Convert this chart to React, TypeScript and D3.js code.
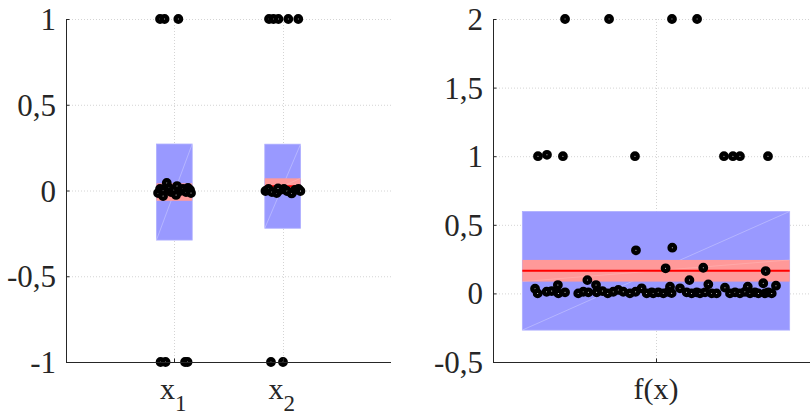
import React from "react";
import * as d3 from "d3";

// ---- data ----
const leftCategories = ["1", "2"]; // subscripts of x
const leftMeans = [-0.009, 0.025];
const leftCI = [0.051, 0.046];
const leftSD = [0.28, 0.245];

const x1Values = [1, 1, 1, -1, -1, -1, -1, -0.015, 0.009, -0.003, 0.044, 0.015, -0.009, 0.003, 0.026, -0.003, 0.009, -0.009, 0.015, 0.003, -0.015, -0.032, -0.026];
const x1Jitter = [-0.132, -0.09, 0.037, -0.127, -0.081, 0.099, 0.122, -0.15, -0.132, -0.104, -0.07, -0.049, -0.03, -0.003, 0.025, 0.053, 0.08, 0.108, 0.126, 0.145, 0.154, -0.104, 0.016];

const x2Values = [1, 1, 1, 1, 1, -1, -1, -0.003, 0.009, -0.009, -0.015, 0.003, 0.009, -0.003, -0.017, 0.003, 0.009, -0.003, 0.012];
const x2Jitter = [-0.126, -0.085, -0.039, 0.052, 0.144, -0.108, 0.003, -0.159, -0.131, -0.099, -0.055, -0.025, 0.012, 0.04, 0.083, 0.114, 0.146, 0.164, -0.043];

const leftTicks = [1, 0.5, 0, -0.5, -1];
const leftTickLabels = ["1", "0,5", "0", "-0,5", "-1"];

const rightCategory = "f(x)";
const rightMean = 0.165;
const rightCI = 0.079;
const rightSD = 0.4325;

const fValues = [
  2, 2, 2, 2,
  1, 1.01, 1, 1, 1, 1, 1, 1,
  0.314, 0.333, 0.183, 0.187, 0.163, 0.097, 0.061, 0.061, 0.097, 0.066, 0.049, 0.074, 0.056, 0.037, 0.042, 0.049,
  0.034, 0, 0.012, 0.017, 0, 0.008, 0, 0.012, 0.008, 0.008, 0.017, 0, 0.012, 0.025, 0.012, 0, 0.012, 0.037, 0, 0.008,
  0, 0.008, 0, 0.012, 0.002, 0.008, 0, 0.008, 0, 0.008, 0, 0, 0, 0.008, 0, 0.012, 0, 0.008, 0, 0, 0.008, 0,
];
const fJitter = [
  -0.558, -0.288, 0.098, 0.252,
  -0.724, -0.669, -0.571, -0.129, 0.417, 0.472, 0.515, 0.687,
  -0.123, 0.1, 0.059, 0.29, 0.673, -0.421, -0.368, -0.602, 0.205, 0.321, 0.086, 0.658, 0.736, 0.147, 0.423, 0.563,
  -0.742, -0.726, -0.671, -0.64, -0.599, -0.558, -0.477, -0.446, -0.415, -0.364, -0.329, -0.296, -0.262, -0.231, -0.201, -0.16, -0.125, -0.088, -0.057, -0.026,
  -0.017, 0.014, 0.045, 0.075, 0.096, 0.188, 0.219, 0.25, 0.27, 0.301, 0.342, 0.372, 0.454, 0.485, 0.515, 0.546, 0.577, 0.607, 0.628, 0.669, 0.689, 0.71,
];

const rightTicks = [2, 1.5, 1, 0.5, 0, -0.5];
const rightTickLabels = ["2", "1,5", "1", "0,5", "0", "-0,5"];

// ---- style ----
const W = 810;
const H = 417;
const TOP = 19;
const BOTTOM = 362;
const FONT = "'Liberation Serif', 'Times New Roman', serif";
const TEXT = "#262626";
const SD_FILL = "#9999ff";
const CI_FILL = "#ff9999";
const GRID = "#d4d4d4";

type Group = { pos: number; mean: number; ci: number; sd: number; values: number[]; jitter: number[] };

function Panel({
  x0, x1, xDomain, yDomain, ticks, tickLabels, halfWidth, groups, xLabels,
}: {
  x0: number; x1: number; xDomain: [number, number]; yDomain: [number, number];
  ticks: number[]; tickLabels: string[]; halfWidth: number; groups: Group[];
  xLabels: React.ReactNode[];
}) {
  const x = d3.scaleLinear().domain(xDomain).range([x0, x1]);
  const y = d3.scaleLinear().domain(yDomain).range([BOTTOM, TOP]);
  return (
    <g>
      {/* grid */}
      {ticks.map((t, i) => (
        <line key={"gy" + i} x1={x0} x2={x1} y1={y(t) + 0.5} y2={y(t) + 0.5} stroke={GRID} strokeDasharray="1 2" />
      ))}
      {groups.map((g, i) => (
        <line key={"gx" + i} x1={Math.round(x(g.pos)) + 0.5} x2={Math.round(x(g.pos)) + 0.5} y1={TOP} y2={BOTTOM} stroke={GRID} strokeDasharray="1 2" />
      ))}
      {/* boxes: SD band, confidence band, mean line */}
      {groups.map((g, i) => {
        const bx0 = x(g.pos - halfWidth);
        const bx1 = x(g.pos + halfWidth);
        const sTop = y(g.mean + g.sd);
        const sBot = y(g.mean - g.sd);
        const cTop = y(g.mean + g.ci);
        const cBot = y(g.mean - g.ci);
        return (
          <g key={"b" + i}>
            <rect x={bx0} y={sTop} width={bx1 - bx0} height={sBot - sTop} fill={SD_FILL} stroke="#aeaeff" strokeWidth={0.8} />
            <line x1={bx0} y1={sBot} x2={bx1} y2={sTop} stroke="#ffffff" strokeOpacity={0.35} strokeWidth={0.8} />
            <rect x={bx0} y={cTop} width={bx1 - bx0} height={cBot - cTop} fill={CI_FILL} />
            <line x1={bx0} y1={cBot} x2={bx1} y2={cTop} stroke="#ffffff" strokeOpacity={0.2} strokeWidth={0.8} />
            <line x1={bx0} x2={bx1} y1={y(g.mean)} y2={y(g.mean)} stroke="#ff0000" strokeWidth={2} />
          </g>
        );
      })}
      {/* points */}
      {groups.map((g, i) =>
        g.values.map((v, j) => (
          <circle key={"p" + i + "-" + j} cx={x(g.pos + g.jitter[j])} cy={y(v)} r={2.7} fill="#ffffff" stroke="#000000" strokeWidth={4.4} />
        ))
      )}
      {/* axes */}
      <line x1={x0 + 0.5} x2={x0 + 0.5} y1={TOP} y2={BOTTOM + 0.5} stroke={TEXT} strokeWidth={1} />
      <line x1={x0} x2={x1} y1={BOTTOM + 0.5} y2={BOTTOM + 0.5} stroke={TEXT} strokeWidth={1} />
      {ticks.map((t, i) => (
        <line key={"ty" + i} x1={x0} x2={x0 + 3.5} y1={y(t) + 0.5} y2={y(t) + 0.5} stroke={TEXT} />
      ))}
      {groups.map((g, i) => (
        <line key={"tx" + i} x1={Math.round(x(g.pos)) + 0.5} x2={Math.round(x(g.pos)) + 0.5} y1={BOTTOM} y2={BOTTOM - 3.5} stroke={TEXT} />
      ))}
      {ticks.map((t, i) => (
        <text key={"l" + i} x={x0 - 10} y={y(t) + 11} textAnchor="end" fontFamily={FONT} fontSize={31} fill={TEXT}>
          {tickLabels[i]}
        </text>
      ))}
      {groups.map((g, i) => (
        <g key={"xl" + i} transform={`translate(${x(g.pos)},${399})`}>{xLabels[i]}</g>
      ))}
    </g>
  );
}

export default function App() {
  const leftGroups: Group[] = [
    { pos: 1, mean: leftMeans[0], ci: leftCI[0], sd: leftSD[0], values: x1Values, jitter: x1Jitter },
    { pos: 2, mean: leftMeans[1], ci: leftCI[1], sd: leftSD[1], values: x2Values, jitter: x2Jitter },
  ];
  const rightGroups: Group[] = [
    { pos: 1, mean: rightMean, ci: rightCI, sd: rightSD, values: fValues, jitter: fJitter },
  ];
  const leftLabels = leftCategories.map((c) => (
    <text textAnchor="middle" fontFamily={FONT} fontSize={30} fill={TEXT} x={-1}>
      x<tspan dy={12} fontSize={23}>{c}</tspan>
    </text>
  ));
  const rightLabels = [
    <text textAnchor="middle" fontFamily={FONT} fontSize={30} fill={TEXT}>{rightCategory}</text>,
  ];
  return (
    <svg width={W} height={H} style={{ position: "absolute", left: 0, top: 0, background: "#fff" }}>
      <rect width={W} height={H} fill="#fff" />
      <Panel x0={66} x1={391} xDomain={[0, 3]} yDomain={[-1, 1]} ticks={leftTicks} tickLabels={leftTickLabels}
        halfWidth={0.165} groups={leftGroups} xLabels={leftLabels} />
      <Panel x0={493} x1={819} xDomain={[0, 2]} yDomain={[-0.5, 2]} ticks={rightTicks} tickLabels={rightTickLabels}
        halfWidth={0.82} groups={rightGroups} xLabels={rightLabels} />
    </svg>
  );
}
